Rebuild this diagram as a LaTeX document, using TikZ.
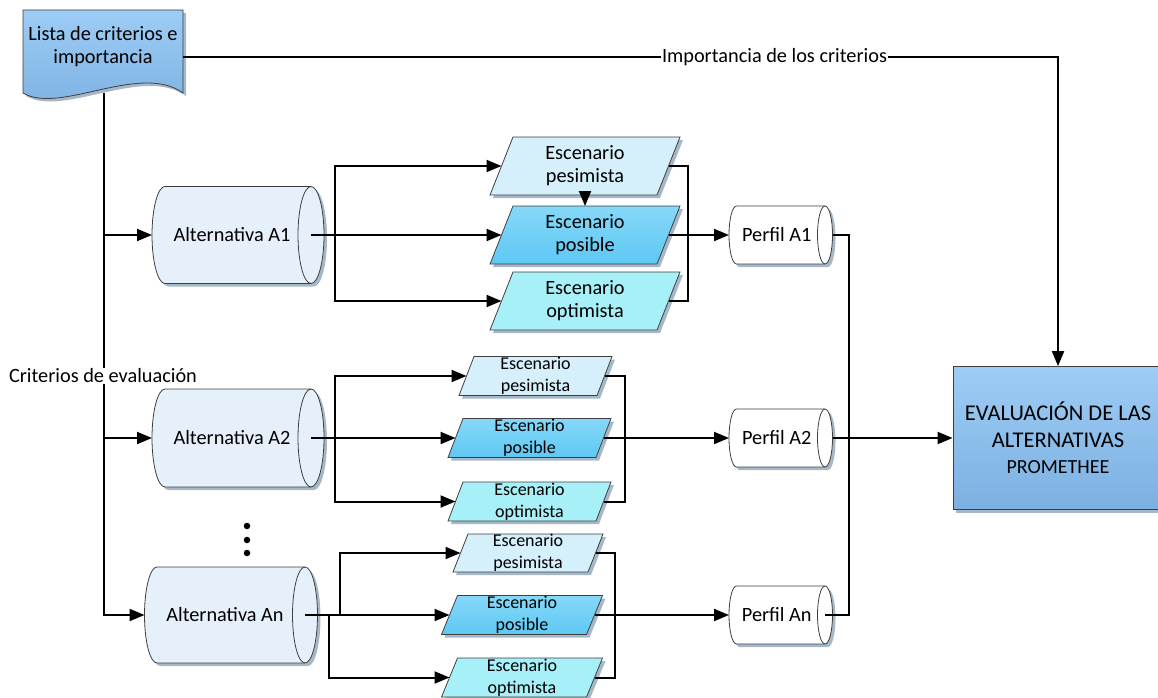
\documentclass[tikz,border=0pt]{standalone}
\usepackage{fontspec}
\setmainfont{Carlito}
\usetikzlibrary{arrows.meta,shadows,backgrounds,calc}

\definecolor{edgec}{HTML}{3F3F3F}
\definecolor{shadowc}{HTML}{A6B8C7}
\definecolor{docTop}{HTML}{9DCDF5}
\definecolor{docBot}{HTML}{7DB0E2}
\definecolor{altFill}{HTML}{E6F0FA}
\definecolor{pesFill}{HTML}{D5EFFB}
\definecolor{posTop}{HTML}{86D8F8}
\definecolor{posBot}{HTML}{5EC8F3}
\definecolor{optFill}{HTML}{A8F0F8}

\tikzset{
  conn/.style={line width=2pt, draw=black},
  arr/.style={-{Triangle[length=15pt,width=12pt]}},
  edgeline/.style={draw=edgec, line width=0.8pt},
  shadowed/.style={drop shadow={shadow xshift=3pt,shadow yshift=-3pt,fill=shadowc,opacity=1}},
  holder/.style={draw=none, inner sep=0pt, outer sep=0pt, align=center,
    font=\fontsize{20.3}{23}\selectfont},
  smalltxt/.style={font=\fontsize{18}{22}\selectfont},
  lbl/.style={fill=white, inner sep=1pt, font=\fontsize{20.3}{23}\selectfont},
  dotmark/.style={circle, fill=black, inner sep=0pt, minimum size=6.5pt},
}

% parallelogram drawn round a rectangle node: #1 node, #2 half slant, #3 fill
\newcommand\paraShape[3]{%
  \path[edgeline,shadowed,#3] ([xshift=#2]#1.north west) -- ([xshift=#2]#1.north east)
    -- ([xshift=-#2]#1.south east) -- ([xshift=-#2]#1.south west) -- cycle;}

% horizontal storage cylinder: #1 node, #2 x radius, #3 y radius, #4 fill
\newcommand\cylShape[4]{%
  \path[edgeline,shadowed,#4] (#1.north west)
    arc[start angle=90,end angle=270,x radius=#2,y radius=#3] -- (#1.south east)
    arc[start angle=-90,end angle=90,x radius=#2,y radius=#3] -- cycle;
  \draw[edgeline] (#1.north east) arc[start angle=90,end angle=270,x radius=#2,y radius=#3];}

\begin{document}
\begin{tikzpicture}[x=1pt,y=1pt]
\useasboundingbox (0,0) rectangle (1158,-698);

% ---- nodes (text) ----
\node[holder, minimum width=160pt, minimum height=94pt] (doc) at (103,-57) {};
\node[holder] (doclabel) at (103,-46.5) {Lista de criterios e\\importancia};

\node[holder, minimum width=146pt, minimum height=97pt] (a1) at (238,-235) {Alternativa A1\hspace{12pt}};
\node[holder, minimum width=146pt, minimum height=98pt] (a2) at (238,-438) {Alternativa A2\hspace{12pt}};
\node[holder, minimum width=148pt, minimum height=96pt] (a3) at (231,-615) {Alternativa An\hspace{12pt}};

\node[holder, minimum width=167pt, minimum height=58pt] (s11) at (585,-166) {Escenario\\pesimista};
\node[holder, minimum width=167pt, minimum height=58pt] (s12) at (585,-235) {Escenario\\posible};
\node[holder, minimum width=167pt, minimum height=58pt] (s13) at (585,-301) {Escenario\\optimista};

\node[holder, smalltxt, minimum width=138pt, minimum height=39pt] (s21) at (535.5,-376) {Escenario\\pesimista};
\node[holder, smalltxt, minimum width=148pt, minimum height=39pt] (s22) at (529.5,-438) {Escenario\\posible};
\node[holder, smalltxt, minimum width=148pt, minimum height=39pt] (s23) at (529.5,-501.5) {Escenario\\optimista};

\node[holder, smalltxt, minimum width=135pt, minimum height=38pt] (s31) at (528,-553) {Escenario\\pesimista};
\node[holder, smalltxt, minimum width=145pt, minimum height=39pt] (s32) at (522,-615) {Escenario\\posible};
\node[holder, smalltxt, minimum width=145pt, minimum height=39pt] (s33) at (522,-677.5) {Escenario\\optimista};

\node[holder, minimum width=88.5pt, minimum height=58pt] (p1) at (780.75,-235) {Perfil A1\hspace{8pt}};
\node[holder, minimum width=88.5pt, minimum height=58pt] (p2) at (780.75,-438) {Perfil A2\hspace{8pt}};
\node[holder, minimum width=88.5pt, minimum height=58pt] (p3) at (780.75,-615) {Perfil An\hspace{8pt}};

\node[edgeline, shadowed, top color=docTop, bottom color=docBot, minimum width=210pt,
  minimum height=143pt, align=center, inner sep=0pt,
  font=\fontsize{22.5}{26.5}\selectfont] (eval) at (1058,-438)
  {EVALUACIÓN DE LAS\\ALTERNATIVAS\\{\fontsize{20}{26.5}\selectfont PROMETHEE}};

\node[dotmark] (dotA) at (247,-526) {};
\node[dotmark] (dotB) at (247,-540) {};
\node[dotmark] (dotC) at (247,-553) {};

% ---- shapes behind the text ----
\begin{scope}[on background layer]
  \path[edgeline,shadowed,top color=docTop,bottom color=docBot]
    (doc.north west) -- (doc.north east) -- ([yshift=11pt]doc.south east)
    .. controls ([xshift=-43pt,yshift=42pt]doc.south east) and ([xshift=37pt,yshift=-11pt]doc.south west)
    .. ([yshift=11pt]doc.south west) -- cycle;

  \cylShape{a1}{13pt}{48.5pt}{fill=altFill}
  \cylShape{a2}{13pt}{49pt}{fill=altFill}
  \cylShape{a3}{12.5pt}{48pt}{fill=altFill}

  \cylShape{p1}{7.5pt}{29pt}{fill=white}
  \cylShape{p2}{7.5pt}{29pt}{fill=white}
  \cylShape{p3}{7.5pt}{29pt}{fill=white}

  \paraShape{s11}{11.5pt}{fill=pesFill}
  \paraShape{s12}{11.5pt}{top color=posTop,bottom color=posBot}
  \paraShape{s13}{11.5pt}{fill=optFill}
  \paraShape{s21}{7.5pt}{fill=pesFill}
  \paraShape{s22}{7.5pt}{top color=posTop,bottom color=posBot}
  \paraShape{s23}{7.5pt}{fill=optFill}
  \paraShape{s31}{7.5pt}{fill=pesFill}
  \paraShape{s32}{8pt}{top color=posTop,bottom color=posBot}
  \paraShape{s33}{8pt}{fill=optFill}
\end{scope}

% ---- connectors ----
\coordinate (trunk) at ([xshift=1pt,yshift=11pt]doc.south);
\coordinate (a1in) at ([xshift=-13pt]a1.west);
\coordinate (a2in) at ([xshift=-13pt]a2.west);
\coordinate (a3in) at ([xshift=-12.5pt]a3.west);
\coordinate (p1in) at ([xshift=-7.5pt]p1.west);
\coordinate (p2in) at ([xshift=-7.5pt]p2.west);
\coordinate (p3in) at ([xshift=-7.5pt]p3.west);

\draw[conn,arr] (trunk) |- (a3in);
\draw[conn,arr] (trunk |- a1in) -- (a1in);
\draw[conn,arr] (trunk |- a2in) -- (a2in);
\node[lbl] (crit) at (103,-376) {Criterios de evaluación};

\draw[conn,arr] (doc.east) -| node[lbl, pos=0.338] (imp) {Importancia de los criterios} (eval.north);

% first alternative
\draw[conn,arr] (a1.east) -- (s12.west);
\draw[conn,arr] ([xshift=24pt]a1.east) |- (s11.west);
\draw[conn,arr] ([xshift=24pt]a1.east) |- (s13.west);
\draw[conn,arr] (s11.south) -- (s12.north);
\draw[conn] (s11.east) -- ++(19.5pt,0) |- (s13.east);
\draw[conn,arr] (s12.east) -- (p1in);

% second alternative
\draw[conn,arr] (a2.east) -- (s22.west);
\draw[conn,arr] ([xshift=24pt]a2.east) |- (s21.west);
\draw[conn,arr] ([xshift=24pt]a2.east) |- (s23.west);
\draw[conn] (s21.east) -- ++(20.5pt,0) |- (s23.east);
\draw[conn,arr] (s22.east) -- (p2in);

% last alternative
\draw[conn,arr] (a3.east) -- (s32.west);
\draw[conn,arr] ([xshift=35pt]a3.east) |- (s31.west);
\draw[conn,arr] ([xshift=24pt]a3.east) |- (s33.west);
\draw[conn] (s31.east) -- ++(19.5pt,0) |- (s33.east);
\draw[conn,arr] (s32.east) -- (p3in);

% profiles to the evaluation
\draw[conn] ([xshift=7.5pt]p1.east) -| ([xshift=24pt]p3.east) -- (p3.east);
\draw[conn,arr] ([xshift=7.5pt]p2.east) -- (eval.west);
\end{tikzpicture}
\end{document}
